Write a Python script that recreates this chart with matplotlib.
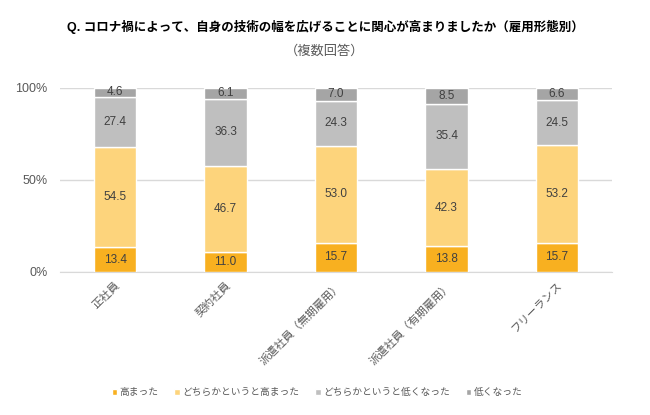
import numpy as np
import matplotlib.pyplot as plt
from matplotlib.ticker import FuncFormatter

# 数字は Arial 風、和文は Noto Sans CJK にフォールバック
plt.rcParams['font.family'] = ['Liberation Sans', 'Noto Sans CJK JP']

categories = ['正社員', '契約社員', '派遣社員（無期雇用）', '派遣社員（有期雇用）', 'フリーランス']
series_names = ['高まった', 'どちらかというと高まった', 'どちらかというと低くなった', '低くなった']
high = [13.4, 11.0, 15.7, 13.8, 15.7]
rather_high = [54.5, 46.7, 53.0, 42.3, 53.2]
rather_low = [27.4, 36.3, 24.3, 35.4, 24.5]
low = [4.6, 6.1, 7.0, 8.5, 6.6]
colors = ['#F8B020', '#FDD47C', '#BFBFBF', '#A5A5A5']

series = [high, rather_high, rather_low, low]

fig = plt.figure(figsize=(6.5, 4.15), dpi=100)
ax = fig.add_axes([0.092, 0.345, 0.85, 0.443])

x = np.arange(len(categories))
bottom = np.zeros(len(categories))
for vals, name, col in zip(series, series_names, colors):
    vals = np.array(vals)
    ax.bar(x, vals, 0.385, bottom=bottom, color=col, edgecolor='white',
           linewidth=1.0, label=name, zorder=3)
    for xi, b, v in zip(x, bottom, vals):
        ax.text(xi, b + v / 2, f'{v:.1f}', ha='center', va='center',
                fontsize=8.5, color='#404040', zorder=4)
    bottom += vals

ax.set_xlim(-0.5, len(categories) - 0.5)
ax.set_ylim(0, 100)
ax.set_yticks([0, 50, 100])
ax.yaxis.set_major_formatter(FuncFormatter(lambda v, p: f'{v:.0f}%'))
ax.grid(axis='y', color='#D9D9D9', linewidth=1, zorder=0)
for s in ['top', 'right', 'left']:
    ax.spines[s].set_visible(False)
ax.spines['bottom'].set_color('#D9D9D9')
ax.tick_params(axis='both', length=0, labelsize=9, colors='#595959')
ax.tick_params(axis='y', pad=9)
ax.tick_params(axis='x', pad=6)
ax.set_xticks(x)
ax.set_xticklabels(categories, rotation=45, ha='right', rotation_mode='anchor',
                   fontsize=8, color='#595959')

fig.text(0.5, 0.935, 'Q. コロナ禍によって、自身の技術の幅を広げることに関心が高まりましたか（雇用形態別）',
         ha='center', va='center', fontsize=9, fontweight='bold', color='#000000')
fig.text(0.5, 0.875, '（複数回答）', ha='center', va='center', fontsize=9.5, color='#595959')

fig.legend(loc='center', bbox_to_anchor=(0.488, 0.055), ncol=4, frameon=False,
           fontsize=7, handlelength=0.55, handleheight=0.55, handletextpad=0.3,
           columnspacing=1.6, labelcolor='#595959')

fig.savefig('out.png', dpi=100)
